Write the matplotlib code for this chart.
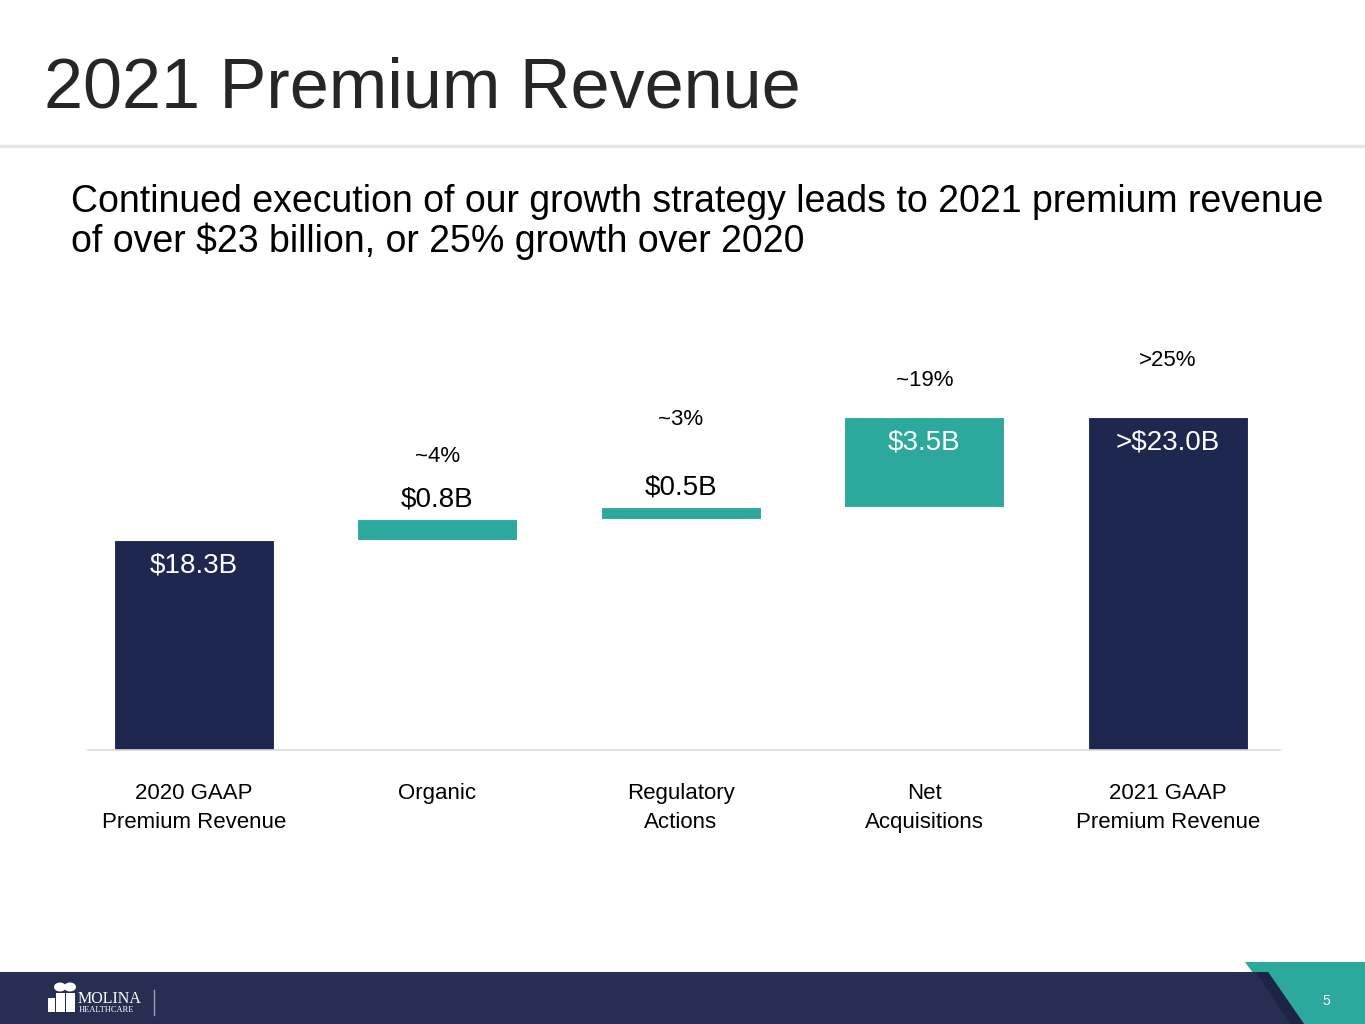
import numpy as np
import matplotlib.pyplot as plt
from matplotlib.patches import Polygon, Rectangle, Circle

plt.rcParams["font.family"] = ["Liberation Sans", "DejaVu Sans"]

# ---- data ----
categories = ["2020 GAAP\nPremium Revenue", "Organic", "Regulatory\nActions",
              "Net\nAcquisitions", "2021 GAAP\nPremium Revenue"]
changes = [18.3, 0.8, 0.5, 3.5]          # $B: start value, then increments
final_total = 23.1                       # $B, shown as ">$23.0B"
value_labels = ["$18.3B", "$0.8B", "$0.5B", "$3.5B", ">$23.0B"]
pct_labels = ["", "~4%", "~3%", "~19%", ">25%"]

NAVY = "#1E2750"
TEAL = "#2CA99C"
FOOT = "#262F52"

W, H = 1365, 1024
fig = plt.figure(figsize=(W / 100, H / 100), dpi=100)


def fx(x):
    return x / W


def fy(y):
    return 1 - y / H


# ---- header ----
fig.text(fx(44), fy(107), "2021 Premium Revenue", fontsize=50.5, color="#262626",
         ha="left", va="baseline")
fig.add_artist(plt.Line2D([0, 1], [fy(146), fy(146)], color="#E6E6E6", lw=2.5))
fig.text(fx(71), fy(212), "Continued execution of our growth strategy leads to 2021 premium revenue",
         fontsize=27, color="black", ha="left", va="baseline")
fig.text(fx(71), fy(252), "of over $23 billion, or 25% growth over 2020",
         fontsize=27, color="black", ha="left", va="baseline")

# ---- waterfall ----
base = 10.06
ax = fig.add_axes([fx(88), fy(750), fx(1280) - fx(88), fy(330) - fy(750)])
x = np.arange(len(categories))
bottoms, heights, colors = [], [], []
running = 0.0
for i, v in enumerate(changes):
    if i == 0:
        bottoms.append(base)
        heights.append(v - base)
        colors.append(NAVY)
    else:
        bottoms.append(running)
        heights.append(v)
        colors.append(TEAL)
    running += v
bottoms.append(base)
heights.append(final_total - base)
colors.append(NAVY)

ax.bar(x, heights, bottom=bottoms, width=0.657, color=colors, edgecolor="white",
       linewidth=0.8)
ax.set_xlim(-0.435, 4.46)
ax.set_ylim(base, base + 420 / 25.5)

# value labels: inside (white) for tall bars, above (black) for thin ones
val_off = [-26, 20, 19, -25, -25]   # pixels relative to bar top
pct_off = [0, 63, 87, 37, 57]
for i in range(len(x)):
    top = bottoms[i] + heights[i]
    inside = val_off[i] < 0
    ax.annotate(value_labels[i], (x[i], top), xytext=(0, val_off[i] * 0.72),
                textcoords="offset points", ha="center", va="center",
                fontsize=20, color="white" if inside else "black")
    if pct_labels[i]:
        ax.annotate(pct_labels[i], (x[i], top), xytext=(0, pct_off[i] * 0.72),
                    textcoords="offset points", ha="center", va="center",
                    fontsize=16, color="black")

ax.set_yticks([])
ax.set_xticks(x)
ax.set_xticklabels(categories, fontsize=16, linespacing=1.45)
ax.tick_params(axis="x", length=0, pad=24)
for s in ["left", "right", "top"]:
    ax.spines[s].set_visible(False)
ax.spines["bottom"].set_color("#D9D9D9")
ax.spines["bottom"].set_linewidth(1.2)

# ---- footer ----
fig.add_artist(Polygon([(fx(1245), fy(962)), (fx(1365), fy(962)),
                        (fx(1365), fy(1024)), (fx(1290), fy(1024))],
                       closed=True, color=TEAL, lw=0))
fig.add_artist(Polygon([(0, fy(972)), (fx(1268), fy(972)), (fx(1304), fy(1024)),
                        (0, fy(1024))], closed=True, color=FOOT, lw=0))
fig.add_artist(Polygon([(fx(1256), fy(972)), (fx(1268), fy(972)), (fx(1304), fy(1024)),
                        (fx(1290), fy(1024))], closed=True, color="#1D2446", lw=0))
fig.text(fx(1326), fy(1001), "5", fontsize=10, color="white", ha="center", va="center")

# logo (simplified)
for cx, cy, r in [(60, 987, 4.5), (70, 987, 4.5)]:
    fig.add_artist(Circle((fx(cx), fy(cy)), r / H, color="white", lw=0,
                          transform=fig.transFigure))
for x0, y0, w, h in [(48, 998, 7, 14), (56, 993, 9, 19), (66, 993, 9, 19)]:
    fig.add_artist(Rectangle((fx(x0), fy(y0 + h)), w / W, h / H, color="white", lw=0))
fig.text(fx(78), fy(999), "MOLINA", fontsize=11.5, color="white", ha="left",
         va="center", family=["Liberation Serif", "DejaVu Serif"])
fig.text(fx(79), fy(1010), "HEALTHCARE", fontsize=6, color="white", ha="left",
         va="center", family=["Liberation Serif", "DejaVu Serif"])
fig.add_artist(plt.Line2D([fx(154), fx(154)], [fy(990), fy(1015)],
                          color="#9AA0B5", lw=1))

fig.savefig("out.png", dpi=100)
